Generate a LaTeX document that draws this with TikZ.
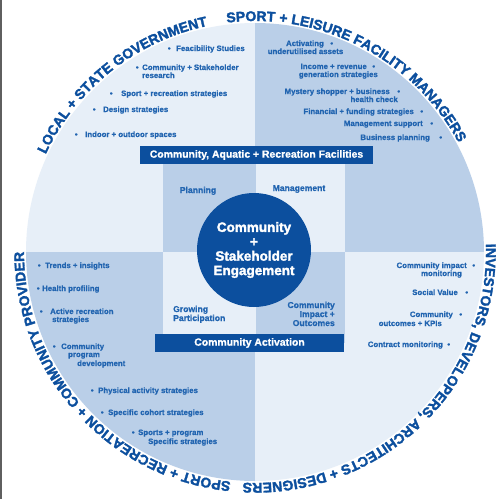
\documentclass[tikz,border=0pt]{standalone}
\usepackage{fontspec}
\setmainfont{Liberation Sans}[BoldFeatures={FakeBold=0.8}]
\newfontfamily\heavyfont{Liberation Sans}[BoldFeatures={FakeBold=2}]
\usetikzlibrary{decorations.text}
\definecolor{lightq}{RGB}{231,239,248}
\definecolor{darkq}{RGB}{186,207,232}
\definecolor{navy}{RGB}{12,79,158}
\definecolor{itemblue}{RGB}{33,100,176}
\definecolor{edgegray}{RGB}{95,95,95}
\newcommand\bl[1]{\llap{\textbullet\hspace{#1pt}}}
\newcommand\br[1]{\rlap{\hspace{#1pt}\textbullet}}
\begin{document}
\begin{tikzpicture}[x=1pt,y=-1pt,
  item/.style={font=\bfseries\fontsize{7.8}{9}\selectfont, text=itemblue, inner sep=0pt},
  iteml/.style={item, anchor=base west},
  itemr/.style={item, anchor=base east},
  itemc/.style={item, anchor=base},
  lab/.style={font=\bfseries\fontsize{8.6}{9}\selectfont, text=itemblue, inner sep=0pt},
  banner/.style={fill=navy, text=white, font=\bfseries\fontsize{10.4}{12}\selectfont, inner sep=0pt, minimum height=18pt},
  arctext/.style={decorate, decoration={text along path, text align={fit to path}, text color=navy}}]
\useasboundingbox (0,0) rectangle (501,499);
\fill[white] (0,0) rectangle (501,499);
\fill[edgegray] (0,0) rectangle (2,499);
\coordinate (C) at (255,252);
% quadrants
\begin{scope}
  \clip (C) circle[radius=229];
  \fill[lightq] (0,0) rectangle (255,252);
  \fill[darkq] (255,0) rectangle (501,252);
  \fill[darkq] (0,252) rectangle (255,499);
  \fill[lightq] (255,252) rectangle (501,499);
\end{scope}
% inner square
\fill[darkq] (163,163) rectangle (256,252);
\fill[lightq] (256,163) rectangle (345,252);
\fill[lightq] (163,252) rectangle (256,343);
\fill[darkq] (256,252) rectangle (345,343);
% banners
\node[banner, minimum width=233pt] (fac) at (256.5,155) {Community, Aquatic + Recreation Facilities};
\node[banner, minimum width=189pt] (act) at (249.5,343) {Community Activation};
% hub
\node[circle, fill=navy, minimum size=114pt, inner sep=0pt, text=white,
  font=\heavyfont\bfseries\fontsize{13.5}{14.4}\selectfont, align=center] (hub) at (254,250)
  {Community\\+\\Stakeholder\\Engagement};
% inner labels
\node[lab, anchor=base] (plan) at (198,193) {Planning};
\node[lab, anchor=base] (mgmt) at (299,191) {Management};
\node[lab, anchor=base west] (grow1) at (173,312) {Growing};
\node[lab, anchor=base west] (grow2) at (173,321) {Participation};
\node[lab, anchor=base east] (imp1) at (335,308) {Community};
\node[lab, anchor=base east] (imp2) at (335,317) {Impact +};
\node[lab, anchor=base east] (imp3) at (335,326) {Outcomes};
% top-left items
\node[iteml] (t1) at (176,51) {\bl{5.6}Feacibility Studies};
\node[iteml] (t2) at (142,70) {\bl{3.6}Community + Stakeholder};
\node[iteml] (t2b) at (142,78) {research};
\node[iteml] (t3) at (121,96) {\bl{8.6}Sport + recreation strategies};
\node[iteml] (t4) at (103,112) {\bl{7.6}Design strategies};
\node[iteml] (t5) at (85,137) {\bl{7.6}Indoor + outdoor spaces};
% top-right items
\node[itemr] (r1) at (324,46) {Activating\br{6.6}};
\node[itemc] (r1b) at (305.5,54) {underutilised assets};
\node[itemr] (r2) at (367,69) {Income + revenue\br{5.6}};
\node[itemr] (r2b) at (378,77) {generation strategies};
\node[itemr] (r3) at (390,94) {Mystery shopper + business\br{7.6}};
\node[itemr] (r3b) at (398,102) {health check};
\node[itemr] (r4) at (414,114) {Financial + funding strategies\br{6.6}};
\node[itemr] (r5) at (423,126) {Management support\br{7.6}};
\node[itemr] (r6) at (430,140) {Business planning\br{9.6}};
% bottom-left items
\node[iteml] (b1) at (45,268) {\bl{4.6}Trends + insights};
\node[iteml] (b2) at (42,291) {\bl{2.6}Health profiling};
\node[iteml] (b3) at (50,314) {\bl{7.6}Active recreation};
\node[iteml] (b3b) at (52,322) {strategies};
\node[iteml] (b4) at (61,349) {\bl{5.6}Community};
\node[iteml] (b4b) at (68,357) {program};
\node[iteml] (b4c) at (77,366) {development};
\node[iteml] (b5) at (98,393) {\bl{4.6}Physical activity strategies};
\node[iteml] (b6) at (108,415) {\bl{4.6}Specific cohort strategies};
\node[iteml] (b7) at (138,435) {\bl{3.6}Sports + program};
\node[iteml] (b7b) at (148,444) {Specific strategies};
% bottom-right items
\node[itemr] (d1) at (467,268) {Community impact\br{5.6}};
\node[itemr] (d1b) at (462,276) {monitoring};
\node[itemr] (d2) at (458,295) {Social Value\br{7.6}};
\node[itemr] (d3) at (453,317) {Community\br{6.6}};
\node[itemr] (d3b) at (442,326) {outcomes + KPIs};
\node[itemr] (d4) at (443,347) {Contract monitoring\br{4.6}};
% curved titles
\path[arctext, decoration={text={|\heavyfont\fontsize{14}{14}\selectfont\bfseries|LOCAL + STATE GOVERNMENT}}]
  (C) ++(-155:231) arc[start angle=-155, end angle=-102, radius=231];
\path[arctext, decoration={text={|\heavyfont\fontsize{14}{14}\selectfont\bfseries|SPORT + LEISURE FACILITY MANAGERS}}]
  (C) ++(-97:231) arc[start angle=-97, end angle=-29, radius=231];
\path[arctext, decoration={text={|\heavyfont\fontsize{14}{14}\selectfont\bfseries|INVESTORS, DEVELOPERS, ARCHITECTS + DESIGNERS}}]
  (C) ++(-2:231) arc[start angle=-2, end angle=93, radius=231];
\path[arctext, decoration={text={|\heavyfont\fontsize{14}{14}\selectfont\bfseries|SPORT + RECREATION + COMMUNITY PROVIDER}}]
  (C) ++(96:231) arc[start angle=96, end angle=180, radius=231];
\end{tikzpicture}
\end{document}
